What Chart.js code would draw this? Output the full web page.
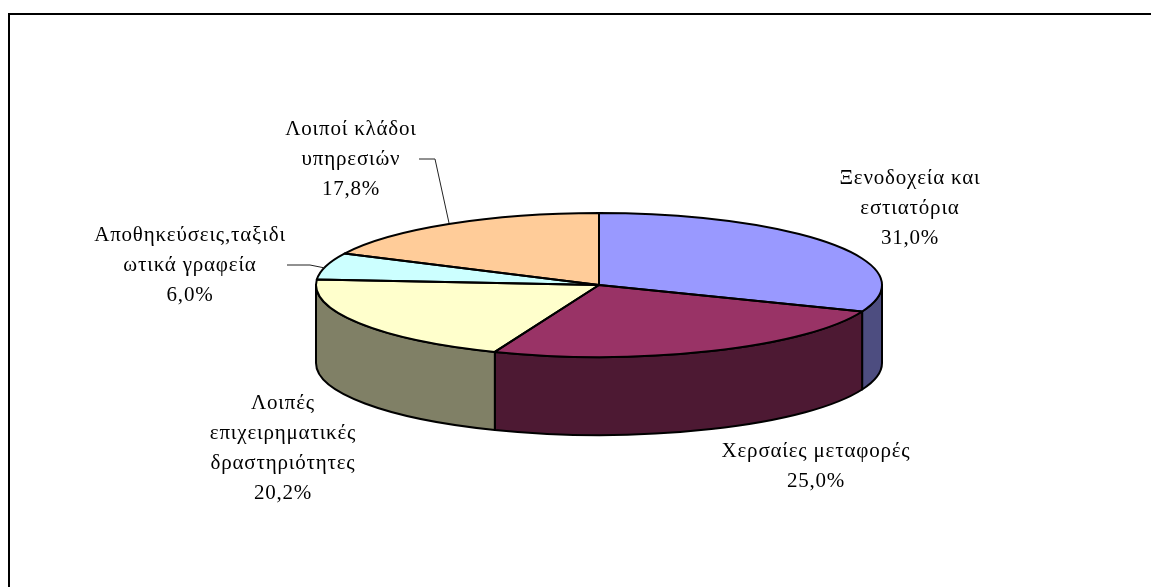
<!DOCTYPE html>
<html>
<head>
<meta charset="utf-8">
<script src="https://cdn.jsdelivr.net/npm/chart.js@4"></script>
<style>
    html, body { margin: 0; padding: 0; background: #fff; }
    canvas { display: block; }
</style>
</head>
<body>
<canvas id="myChart" width="1151" height="587"></canvas>
<script>
// Values, clockwise from the top
const categories = [
    'Ξενοδοχεία και εστιατόρια',
    'Χερσαίες μεταφορές',
    'Λοιπές επιχειρηματικές δραστηριότητες',
    'Αποθηκεύσεις,ταξιδιωτικά γραφεία',
    'Λοιποί κλάδοι υπηρεσιών'
];
const shares = [31.0, 25.0, 20.2, 6.0, 17.8];
const topColors = ['#9999FF', '#993366', '#FFFFCC', '#CCFFFF', '#FFCC99'];
const sideColors = ['#4D4D80', '#4D1933', '#808066', '#668080', '#80664D'];

// Label text as it wraps in the picture, the percent line comes from shares
const labelLines = [
    ['Ξενοδοχεία και', 'εστιατόρια'],
    ['Χερσαίες μεταφορές'],
    ['Λοιπές', 'επιχειρηματικές', 'δραστηριότητες'],
    ['Αποθηκεύσεις,ταξιδι', 'ωτικά γραφεία'],
    ['Λοιποί κλάδοι', 'υπηρεσιών']
];
const labelAnchors = [[910, 178], [816, 451], [283, 403], [190, 235], [351, 129]];
const leaderLines = [
    [[287, 265], [310, 265], [325, 268]],
    [[419, 159], [435, 159], [449, 223]]
];

// Look of the tilted pie
const pieCenterY = 285;
const tilt = 0.2544;
const depth = 78;
const lineHeight = 30;

const pie3d = {
    id: 'pie3d',
    beforeDatasetsDraw(chart) {
        const ctx = chart.ctx;
        const arcs = chart.getDatasetMeta(0).data;

        // Frame of the picture, only left and top are in view
        ctx.save();
        ctx.strokeStyle = '#000';
        ctx.lineWidth = 2;
        ctx.beginPath();
        ctx.moveTo(9, 587);
        ctx.lineTo(9, 14);
        ctx.lineTo(1151, 14);
        ctx.stroke();
        ctx.restore();

        // Side wall under the front half of each slice
        arcs.forEach((arc, i) => {
            const from = Math.max(arc.startAngle, 0);
            const to = Math.min(arc.endAngle, Math.PI);
            if (to <= from) return;
            const rx = arc.outerRadius;
            const ry = rx * tilt;
            ctx.save();
            ctx.beginPath();
            ctx.ellipse(arc.x, pieCenterY, rx, ry, 0, from, to);
            ctx.lineTo(arc.x + rx * Math.cos(to), pieCenterY + ry * Math.sin(to) + depth);
            ctx.ellipse(arc.x, pieCenterY + depth, rx, ry, 0, to, from, true);
            ctx.closePath();
            ctx.fillStyle = sideColors[i];
            ctx.fill();
            ctx.strokeStyle = '#000';
            ctx.lineWidth = 2;
            ctx.lineJoin = 'round';
            ctx.stroke();
            ctx.restore();
        });

        // Squash the library's round pie into the tilted ellipse
        const cx = arcs[0].x;
        const cy = arcs[0].y;
        ctx.save();
        ctx.translate(cx, pieCenterY);
        ctx.scale(1, tilt);
        ctx.translate(-cx, -cy);
    },
    afterDatasetsDraw(chart) {
        const ctx = chart.ctx;
        ctx.restore();

        const arcs = chart.getDatasetMeta(0).data;
        ctx.save();
        ctx.strokeStyle = '#000';
        ctx.lineWidth = 2;
        ctx.lineJoin = 'round';
        arcs.forEach(arc => {
            const rx = arc.outerRadius;
            const ry = rx * tilt;
            ctx.beginPath();
            ctx.moveTo(arc.x, pieCenterY);
            ctx.ellipse(arc.x, pieCenterY, rx, ry, 0, arc.startAngle, arc.endAngle);
            ctx.closePath();
            ctx.stroke();
        });

        // Leader lines
        ctx.lineWidth = 1;
        ctx.strokeStyle = '#222';
        leaderLines.forEach(line => {
            ctx.beginPath();
            line.forEach(([x, y], k) => k ? ctx.lineTo(x, y) : ctx.moveTo(x, y));
            ctx.stroke();
        });

        // Labels
        ctx.fillStyle = '#000';
        ctx.font = '21px "Liberation Serif"';
        ctx.letterSpacing = '0.8px';
        ctx.textAlign = 'center';
        ctx.textBaseline = 'middle';
        labelLines.forEach((lines, i) => {
            const [x, y] = labelAnchors[i];
            const percent = shares[i].toFixed(1).replace('.', ',') + '%';
            lines.concat(percent).forEach((text, k) => ctx.fillText(text, x, y + k * lineHeight));
        });
        ctx.restore();
    }
};

new Chart(document.getElementById('myChart').getContext('2d'), {
    type: 'pie',
    data: {
        labels: categories,
        datasets: [{
            data: shares,
            backgroundColor: topColors,
            borderWidth: 0
        }]
    },
    options: {
        responsive: false,
        animation: false,
        radius: 283,
        layout: { padding: { left: 47 } },
        plugins: {
            legend: { display: false },
            tooltip: { enabled: false }
        }
    },
    plugins: [pie3d]
});
</script>
</body>
</html>
